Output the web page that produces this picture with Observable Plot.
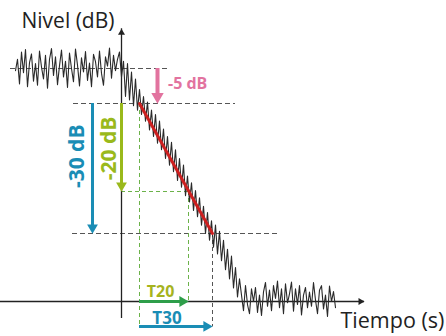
<!DOCTYPE html>
<html>
<head>
<meta charset="utf-8">
<script src="https://cdn.jsdelivr.net/npm/d3@7"></script>
<script src="https://cdn.jsdelivr.net/npm/@observablehq/plot@0.6"></script>
<style>
  html, body { margin: 0; padding: 0; background: #fff; }
  svg { display: block; }
</style>
</head>
<body>
<div id="chart"></div>
<script>
// ---- data (schematic reverberation decay, levels in dB, time in s) ----
const noiseStart = -1.06;     // time of first sample
const noiseStep = 0.02;       // sampling step
const plateauLevels = [-0.3, 1.9, -2.2, 3.4, -0.6, 3.9, -2.6, 1.2, 3.0, -1.8, 1.0, -2.4, 3.6, 0.3, -1.5, 2.7, -2.8, 1.9, 4.1, -1.0, 2.4, -2.3, 0.6, 3.8, -1.2, 1.5, -2.7, 3.2, 0.0, -1.9, 4.0, 0.7, -2.5, 2.2, -0.5, 3.5, -1.7, 1.1, -2.6, 2.9, 1.4, -1.2, 3.6, -0.7, -2.4, 2.4, 0.5, 4.2, -1.4, 2.7, -0.3, 1.9, 3.4, -1.2];
const decayLevels = [1.5, -4.0, 1.0, -4.5, -0.5, -5.5, -1.5, -6.5, -3.0, -7.5, -4.0, -9.0, -4.8, -11.0, -6.5, -12.5, -7.5, -14.0, -9.0, -15.5, -10.8, -17.5, -12.5, -19.0, -13.8, -20.5, -15.5, -22.5, -17.5, -24.0, -19.0, -26.0, -21.5, -27.5, -23.0, -29.5, -24.8, -31.0, -26.5, -33.0, -28.5, -35.0, -30.0, -36.5, -32.0, -38.0, -33.0, -39.5, -34.5, -41.0, -36.5, -43.0, -38.5, -45.0, -40.0, -47.0, -42.5, -49.0, -45.0];
const floorLevels = [-48.6, -52.1, -46.5, -50.7, -52.8, -47.2, -50.0, -46.9, -52.5, -48.6, -53.2, -47.9, -45.8, -51.1, -47.5, -52.1, -46.5, -49.3, -45.5, -51.4, -47.2, -52.8, -46.1, -50.3, -48.3, -45.7, -52.2, -47.2, -50.7, -46.5, -53.1, -48.6, -46.9, -51.4, -47.9, -51.1, -45.8, -49.7, -52.8, -47.5, -46.5, -51.7, -48.6, -53.4, -46.6, -50.0, -47.8, -51.4];

const levelInitial = 0;     // dB
const level5 = -5;          // -5 dB
const level25 = -25;        // -5 - 20 dB
const level35 = -35;        // -5 - 30 dB
const levelFloor = -50;     // axis / noise floor
const tStart = 0.18;        // time at -5 dB
const tEnd20 = 0.67;        // time at -25 dB
const tEnd30 = 0.91;        // time at -35 dB

const labels = {
  yTitle: "Nivel (dB)",
  xTitle: "Tiempo (s)",
  d5: "-5 dB",
  d20: "-20 dB",
  d30: "-30 dB",
  t20: "T20",
  t30: "T30"
};

// ---- build table ----
const allLevels = [...plateauLevels, ...decayLevels, ...floorLevels];
const curve = allLevels.map((level, i) => ({t: +(noiseStart + i * noiseStep).toFixed(3), level}));

const C = {
  pink: "#e2739f",
  olive: "#9ab91b",
  blue: "#1a8db5",
  green: "#2e9e4a",
  t20text: "#a6b31e",
  dashGreen: "#6cb24a",
  red: "#cc2020",
  dash: "#555",
  ink: "#222"
};
const FONT = "'Open Sans', 'DejaVu Sans', sans-serif";

// schematic (not to scale) level axis: piecewise mapping of dB to drawing units
const levelMap = d3.scaleLinear()
  .domain([14, 0, -5, -25, -35, -50, -58])
  .range([336, 268, 233, 145, 103, 35, 0]);

const yBottom = -55.8;   // bottom extent of guides
const tri = (data, opts) => Plot.dot(data, {symbol: "triangle", stroke: null, ...opts});

const chart = Plot.plot({
  width: 446,
  height: 336,
  margin: 0,
  style: {fontFamily: FONT, background: "#fff", overflow: "visible"},
  x: {domain: [-1.21, 3.25], range: [0, 446], axis: null},
  y: {transform: (v) => levelMap(v), domain: [0, 336], range: [336, 0], axis: null},
  marks: [
    // black dashed guides
    Plot.ruleY([levelInitial], {x1: -1.11, x2: 0.46, stroke: C.dash, strokeDasharray: "5,3", strokeWidth: 1}),
    Plot.ruleY([level5], {x1: -0.48, x2: 1.14, stroke: C.dash, strokeDasharray: "5,3", strokeWidth: 1}),
    Plot.ruleY([level35], {x1: -0.49, x2: 1.56, stroke: C.dash, strokeDasharray: "5,3", strokeWidth: 1}),
    Plot.ruleX([tEnd30], {y1: level35, y2: yBottom, stroke: C.dash, strokeDasharray: "4,3", strokeWidth: 1}),
    // green dashed guides
    Plot.ruleY([level25], {x1: 0, x2: tEnd20, stroke: C.dashGreen, strokeDasharray: "4,3", strokeWidth: 1}),
    Plot.ruleX([tStart], {y1: level5, y2: yBottom, stroke: C.dashGreen, strokeDasharray: "4,3", strokeWidth: 1}),
    Plot.ruleX([tEnd20], {y1: level25, y2: levelFloor, stroke: C.dashGreen, strokeDasharray: "4,3", strokeWidth: 1}),
    // axes
    Plot.ruleX([0], {y1: -53.9, y2: 8.2, stroke: C.ink, strokeWidth: 1.3}),
    Plot.ruleY([levelFloor], {x1: -1.21, x2: 2.43, stroke: C.ink, strokeWidth: 1.3}),
    tri([{t: 0, level: 8.2}], {x: "t", y: "level", r: 2.6, fill: C.ink, dy: 4}),
    tri([{t: 2.43, level: levelFloor}], {x: "t", y: "level", r: 2.6, fill: C.ink, rotate: 90, dx: -4}),
    // noisy decay curve
    Plot.line(curve, {x: "t", y: "level", stroke: "#2a2a2a", strokeWidth: 1.1}),
    // regression line
    Plot.line([{t: tStart, level: level5}, {t: tEnd30, level: level35}], {x: "t", y: "level", stroke: C.red, strokeWidth: 3}),
    // -5 dB arrow
    Plot.ruleX([0.36], {y1: levelInitial, y2: level5, stroke: C.pink, strokeWidth: 4, insetBottom: 8}),
    tri([{t: 0.36, level: level5}], {x: "t", y: "level", r: 4.6, fill: C.pink, rotate: 180, dy: -7}),
    // -20 dB arrow
    Plot.ruleX([0], {y1: level5, y2: level25, stroke: C.olive, strokeWidth: 3, insetBottom: 7}),
    tri([{t: 0, level: level25}], {x: "t", y: "level", r: 4, fill: C.olive, rotate: 180, dy: -6}),
    // -30 dB arrow
    Plot.ruleX([-0.29], {y1: level5, y2: level35, stroke: C.blue, strokeWidth: 3, insetBottom: 7}),
    tri([{t: -0.29, level: level35}], {x: "t", y: "level", r: 4, fill: C.blue, rotate: 180, dy: -6}),
    // T20 arrow
    Plot.ruleY([levelFloor], {x1: tStart, x2: tEnd20, stroke: C.green, strokeWidth: 3, insetRight: 7}),
    tri([{t: tEnd20, level: levelFloor}], {x: "t", y: "level", r: 4, fill: C.green, rotate: 90, dx: -6}),
    // T30 arrow
    Plot.ruleY([-55.7], {x1: tStart, x2: tEnd30, stroke: C.blue, strokeWidth: 3, insetRight: 7}),
    tri([{t: tEnd30, level: -55.7}], {x: "t", y: "level", r: 4, fill: C.blue, rotate: 90, dx: -6}),
    // texts
    Plot.text([labels.yTitle], {x: -1.0, y: 9.76, textAnchor: "start", fontSize: 21, fill: C.ink}),
    Plot.text([labels.xTitle], {x: 2.19, y: -54.4, textAnchor: "start", fontSize: 21.5, fill: C.ink}),
    Plot.text([labels.d5], {x: 0.465, y: -2.2, textAnchor: "start", fontSize: 16, fontWeight: "bold", fill: C.pink}),
    Plot.text([labels.d20], {x: -0.125, y: -15.2, rotate: -90, fontSize: 21, fontWeight: "bold", fill: C.olive}),
    Plot.text([labels.d30], {x: -0.445, y: -17.0, rotate: -90, fontSize: 21, fontWeight: "bold", fill: C.blue}),
    Plot.text([labels.t20], {x: 0.39, y: -47.9, fontSize: 16, fontWeight: "bold", fill: C.t20text}),
    Plot.text([labels.t30], {x: 0.455, y: -54.0, fontSize: 17, fontWeight: "bold", fill: C.blue})
  ]
});
document.getElementById("chart").appendChild(chart);
</script>
</body>
</html>
